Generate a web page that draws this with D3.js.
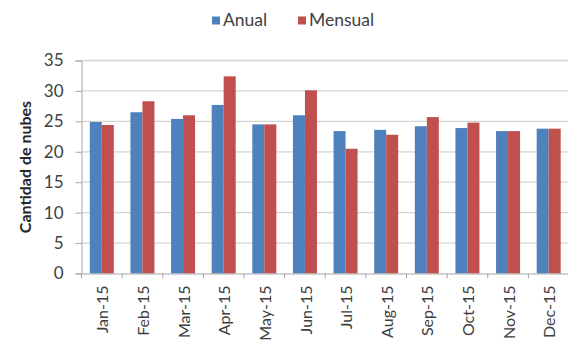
<!DOCTYPE html>
<html><head><meta charset="utf-8">
<script src="https://cdn.jsdelivr.net/npm/d3@7"></script>
<style>body{margin:0;background:#fff}svg{display:block}text{font-family:Lato,"Open Sans",sans-serif}</style>
</head><body>
<svg id="c" width="568" height="343"></svg>
<script>
const categories = ["Jan-15","Feb-15","Mar-15","Apr-15","May-15","Jun-15","Jul-15","Aug-15","Sep-15","Oct-15","Nov-15","Dec-15"];
const anual   = [24.9, 26.5, 25.4, 27.7, 24.5, 26.0, 23.4, 23.6, 24.2, 23.9, 23.4, 23.8];
const mensual = [24.4, 28.3, 26.0, 32.4, 24.5, 30.1, 20.5, 22.8, 25.7, 24.8, 23.4, 23.8];
const seriesNames = ["Anual","Mensual"];
const colors = ["#4F81BD","#C0504D"];
const yTicks = [0,5,10,15,20,25,30,35];

(function(){
const svg = d3.select("#c");
const pL = 81.5, pR = 569, pT = 60.5, pB = 273.5;
const x = d3.scaleBand().domain(categories).range([pL, pR]).paddingInner(0).paddingOuter(0);
const y = d3.scaleLinear().domain([0,35]).range([pB, pT]);

// gridlines
svg.append("g").selectAll("line").data(yTicks.filter(d=>d>0)).join("line")
  .attr("x1", pL).attr("x2", pR)
  .attr("y1", d=>y(d)).attr("y2", d=>y(d))
  .attr("stroke", "#d4d4d4").attr("stroke-width", 1.3);

// bars
const bw = 12;
const sub = d3.scaleBand().domain(seriesNames).range([0, bw*2]);
const data = [anual, mensual];
data.forEach((vals, si) => {
  svg.append("g").selectAll("rect").data(vals).join("rect")
    .attr("x", (d,i)=> x(categories[i]) + (x.bandwidth()-bw*2)/2 + sub(seriesNames[si]))
    .attr("width", bw)
    .attr("y", d=>y(d))
    .attr("height", d=>y(0)-y(d))
    .attr("fill", colors[si]);
});

// y axis
const yAxis = d3.axisLeft(y).tickValues(yTicks).tickSize(6).tickPadding(12);
const ga = svg.append("g").attr("transform", `translate(${pL},0)`).call(yAxis);
ga.select(".domain").attr("stroke", "#a6a6a6");
ga.selectAll(".tick line").attr("stroke", "#a6a6a6");
ga.selectAll("text").attr("font-size", 17).attr("fill", "#404040").attr("font-family","Lato,sans-serif");

// x axis
const xAxis = d3.axisBottom(x).tickSize(0).tickPadding(0);
const gx = svg.append("g").attr("transform", `translate(0,${pB})`).call(xAxis);
gx.select(".domain").attr("stroke", "#a6a6a6");
gx.selectAll("text").attr("transform","rotate(-90)").attr("text-anchor","end")
  .attr("x", -12).attr("y", 1).attr("dy","0.35em")
  .attr("font-size", 16).attr("fill","#404040").attr("font-family","Lato,sans-serif");
// category boundary ticks
svg.append("g").selectAll("line").data(categories.concat(["end"])).join("line")
  .attr("x1", (d,i)=> pL + i*x.bandwidth()).attr("x2", (d,i)=> pL + i*x.bandwidth())
  .attr("y1", pB).attr("y2", pB+5).attr("stroke","#a6a6a6");

// y title
svg.append("text").attr("transform", `translate(31,${(pT+pB)/2}) rotate(-90)`)
  .attr("text-anchor","middle").attr("font-size",16).attr("font-weight","bold")
  .attr("fill","#262626").text("Cantidad de nubes");

// legend
const legX = [212, 298];
seriesNames.forEach((n,i)=>{
  svg.append("rect").attr("x", legX[i]).attr("y", 16.5).attr("width", 8).attr("height", 8).attr("fill", colors[i]);
  svg.append("text").attr("x", legX[i]+11).attr("y", 26).attr("font-size", 17.5)
    .attr("fill","#404040").text(n);
});
})();
</script>
</body></html>
